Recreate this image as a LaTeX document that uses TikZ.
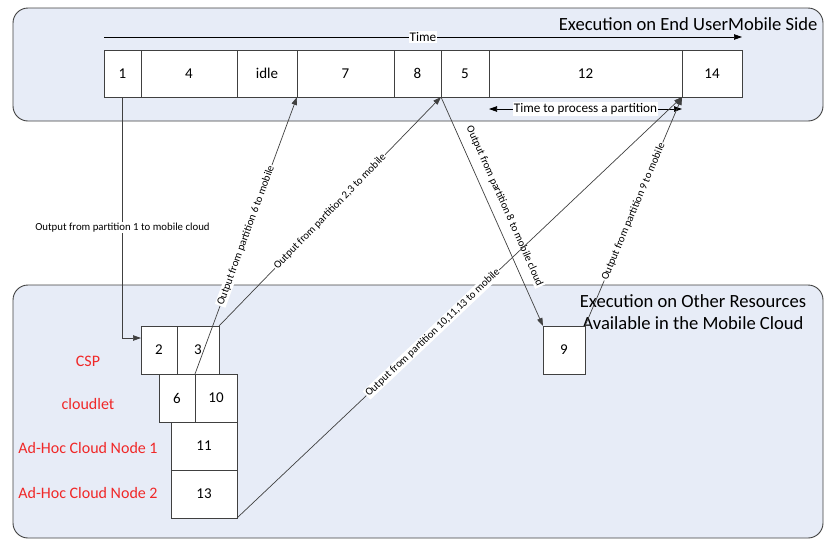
\documentclass[tikz,border=0pt]{standalone}
\usepackage{fontspec}
\setmainfont{Carlito}
\usetikzlibrary{positioning,arrows.meta,calc}
\definecolor{panelfill}{RGB}{231,236,247}
\definecolor{linegray}{RGB}{64,64,64}
\definecolor{labelred}{RGB}{240,40,40}

\begin{document}
\begin{tikzpicture}[x=1pt,y=-1pt,
	panel/.style={draw=linegray, fill=panelfill, rounded corners=15pt, line width=0.9pt},
	cell/.style={draw=linegray, fill=white, line width=0.8pt, inner sep=0pt, outer sep=0pt, minimum height=47pt, font=\fontsize{15}{17}\selectfont},
	arr/.style={draw=linegray, line width=0.7pt, -{Triangle[length=8pt,width=5.5pt]}},
	twoarr/.style={draw=black, line width=0.7pt, {Triangle[length=8pt,width=5.5pt]}-{Triangle[length=8pt,width=5.5pt]}},
	msg/.style={font=\fontsize{10.8}{12}\selectfont, fill=white, inner sep=1pt},
	note/.style={font=\fontsize{13.2}{14}\selectfont, fill=white, inner sep=1pt},
	res/.style={text=labelred, font=\fontsize{16}{19}\selectfont},
	title/.style={font=\fontsize{18.6}{22}\selectfont}]
	\useasboundingbox (0,0) rectangle (825,539);
	
	%Panels
	\draw[panel] (13,8) rectangle (823,121);
	\draw[panel] (13,285) rectangle (823,538);
	\node[title, anchor=east] (mside) at (821,24) {Execution on End UserMobile Side};
	\node[title, align=center] (cside) at (693,312) {Execution on Other Resources\\Available in the Mobile Cloud};
	
	%Mobile side partitions
	\node[cell, minimum width=37pt] (c1) at (122.5,73.5) {1};
	\node[cell, minimum width=96pt, right=0pt of c1] (c4) {4};
	\node[cell, minimum width=60pt, right=0pt of c4] (cidle) {idle};
	\node[cell, minimum width=97pt, right=0pt of cidle] (c7) {7};
	\node[cell, minimum width=47pt, right=0pt of c7] (c8) {8};
	\node[cell, minimum width=48pt, right=0pt of c8] (c5) {5};
	\node[cell, minimum width=193pt, right=0pt of c5] (c12) {12};
	\node[cell, minimum width=60pt, right=0pt of c12] (c14) {14};
	
	%Time axes
	\draw[arr, draw=black] ($(c1.north west)+(0,-13)$) -- node[note, midway] {Time} ($(c14.north east)+(0,-13)$);
	\draw[twoarr] ($(c12.south west)+(0,12)$) -- node[note, midway] {Time to process a partition} ($(c12.south east)+(0,12)$);
	
	%Cloud side partitions
	\node[cell, minimum width=36pt, minimum height=48pt] (c2) at (159,350) {2};
	\node[cell, minimum width=42pt, minimum height=48pt, right=0pt of c2] (c3) {3};
	\node[cell, minimum width=36pt, minimum height=48pt] (c6) at (177,398) {6};
	\node[cell, minimum width=42pt, minimum height=48pt, right=0pt of c6] (c10) {10};
	\node[cell, minimum width=66pt, minimum height=48pt] (c11) at (204,446) {11};
	\node[cell, minimum width=66pt, minimum height=48pt, below=0pt of c11] (c13) {13};
	\node[cell, minimum width=42pt, minimum height=48pt] (c9) at (564,350) {9};
	
	%Resources
	\node[res] (csp) at (88,361) {CSP};
	\node[res] (cloudlet) at (88,404) {cloudlet};
	\node[res] (adhoc1) at (88,448) {Ad-Hoc Cloud Node 1};
	\node[res] (adhoc2) at (88,493) {Ad-Hoc Cloud Node 2};
	
	%Outputs
	\draw[arr] (c1.south) |- node[msg, pos=0.27] {Output from partition 1 to mobile cloud} ($(c2.north west)!0.25!(c2.south west)$);
	\draw[arr] (c6.north east) -- node[msg, midway, sloped] {Output from partition 6 to mobile} (cidle.south east);
	\draw[arr] (c3.north east) -- node[msg, midway, sloped] {Output from partition 2,3 to mobile} (c8.south east);
	\draw[arr] (c8.south east) -- node[msg, midway, sloped, anchor=south, outer sep=8pt] {Output from partition 8 to mobile cloud} (c9.north west);
	\draw[arr] (c9.north east) -- node[msg, midway, sloped] {Output from partition 9 to mobile} (c14.south west);
	\draw[arr] (c13.south east) -- node[msg, pos=0.44, sloped] {Output from partition 10,11,13 to mobile} (c14.south west);
\end{tikzpicture}
\end{document}
